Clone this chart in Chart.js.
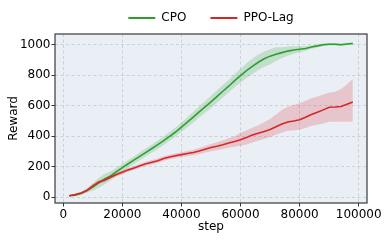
<!DOCTYPE html>
<html>
<head>
<meta charset="utf-8">
<script src="https://cdn.jsdelivr.net/npm/chart.js@4"></script>
<style>
  html, body { margin: 0; padding: 0; background: #fff; }
  #wrap { width: 389px; height: 240px; }
</style>
</head>
<body>
<div id="wrap"><canvas id="chart" width="389" height="240"></canvas></div>
<script>
// training steps (x values)
const steps = [2000, 4000, 6000, 8000, 10000, 12000, 14000, 16000, 18000, 20000,
  22000, 24000, 26000, 28000, 30000, 32000, 34000, 36000, 38000, 40000,
  42000, 44000, 46000, 48000, 50000, 52000, 54000, 56000, 58000, 60000,
  62000, 64000, 66000, 68000, 70000, 72000, 74000, 76000, 78000, 80000,
  82000, 84000, 86000, 88000, 90000, 92000, 94000, 96000, 98000];

// CPO reward: mean and shaded band
const cpoMean = [10, 14, 25, 45, 68, 95, 120, 140, 168, 195,
  220, 245, 270, 295, 320, 345, 372, 400, 428, 460,
  492, 525, 560, 592, 625, 660, 695, 728, 765, 798,
  830, 858, 885, 908, 925, 938, 948, 958, 965, 970,
  975, 985, 992, 1000, 1003, 1003, 1000, 1004, 1008];
const cpoHigh = [13, 19, 33, 60, 93, 127, 155, 170, 194, 220,
  245, 270, 295, 321, 347, 373, 401, 430, 458, 491,
  525, 560, 597, 630, 665, 700, 736, 770, 808, 843,
  878, 910, 935, 956, 970, 983, 983, 988, 990, 990,
  990, 997, 1002, 1009, 1011, 1011, 1008, 1012, 1016];
const cpoLow = [7, 9, 17, 30, 43, 63, 85, 110, 142, 170,
  195, 220, 245, 269, 293, 317, 343, 370, 398, 429,
  459, 490, 523, 554, 585, 620, 654, 686, 722, 753,
  782, 806, 835, 855, 870, 893, 913, 928, 940, 950,
  960, 973, 982, 991, 995, 995, 992, 996, 1000];

// PPO-Lag reward: mean and shaded band
const lagMean = [10, 18, 28, 45, 75, 100, 112, 132, 150, 165,
  180, 193, 207, 220, 230, 240, 255, 264, 272, 280,
  287, 294, 303, 315, 326, 335, 345, 356, 366, 378,
  392, 408, 420, 432, 445, 462, 480, 494, 500, 508,
  525, 543, 558, 573, 590, 592, 595, 610, 625];
const lagHigh = [14, 23, 34, 53, 85, 112, 124, 144, 163, 178,
  193, 206, 220, 233, 244, 254, 270, 279, 287, 296,
  304, 312, 323, 337, 350, 361, 373, 387, 401, 423,
  438, 456, 472, 492, 513, 542, 572, 594, 605, 616,
  633, 649, 661, 673, 685, 692, 710, 740, 775];
const lagLow = [6, 13, 22, 37, 65, 88, 100, 120, 137, 152,
  167, 180, 194, 207, 216, 226, 240, 249, 257, 264,
  270, 276, 283, 293, 302, 309, 317, 325, 331, 338,
  347, 360, 370, 382, 395, 410, 425, 436, 438, 443,
  455, 468, 476, 483, 495, 496, 496, 496, 496];

// axis ticks
const xTicks = [0, 20000, 40000, 60000, 80000, 100000];
const yTicks = [0, 200, 400, 600, 800, 1000];

const GREEN = '#2ca02c';
const RED = '#d62728';

Chart.defaults.font.family = '"DejaVu Sans", sans-serif';
Chart.defaults.font.size = 12;
Chart.defaults.color = '#000';

function toPoints(ys) {
  return steps.map((s, i) => ({ x: s, y: ys[i] }));
}

// background of plot area and the four spines
const frame = {
  id: 'frame',
  beforeDraw(chart) {
    const a = chart.chartArea;
    const ctx = chart.ctx;
    ctx.save();
    ctx.fillStyle = '#eaeef5';
    ctx.fillRect(a.left, a.top, a.right - a.left, a.bottom - a.top);
    ctx.restore();
  },
  afterLayout(chart) {
    // centre legend over the plot area
    const lg = chart.legend;
    lg.left = chart.chartArea.left;
    lg.right = chart.chartArea.right;
  },
  afterDraw(chart) {
    const a = chart.chartArea;
    const ctx = chart.ctx;
    ctx.save();
    ctx.strokeStyle = '#3a3a3a';
    ctx.lineWidth = 1.2;
    ctx.strokeRect(a.left, a.top, a.right - a.left, a.bottom - a.top);
    ctx.restore();
  }
};

const lineOpts = { borderWidth: 1.6, pointRadius: 0, fill: false, tension: 0 };
const bandOpts = { borderWidth: 0, pointRadius: 0, tension: 0 };

new Chart(document.getElementById('chart'), {
  type: 'line',
  data: {
    datasets: [
      { label: 'PPO-Lag', data: toPoints(lagMean), borderColor: RED, backgroundColor: RED, ...lineOpts },
      { label: 'lagHigh', data: toPoints(lagHigh), fill: false, ...bandOpts },
      { label: 'lagLow', data: toPoints(lagLow), fill: '-1', backgroundColor: 'rgba(214,39,40,0.2)', ...bandOpts },
      { label: 'CPO', data: toPoints(cpoMean), borderColor: GREEN, backgroundColor: GREEN, ...lineOpts },
      { label: 'cpoHigh', data: toPoints(cpoHigh), fill: false, ...bandOpts },
      { label: 'cpoLow', data: toPoints(cpoLow), fill: '-1', backgroundColor: 'rgba(44,160,44,0.2)', ...bandOpts }
    ]
  },
  options: {
    responsive: false,
    animation: false,
    layout: { padding: { top: -12, right: 22, bottom: 0, left: 0 } },
    plugins: {
      tooltip: { enabled: false },
      legend: {
        position: 'top',
        labels: {
          boxWidth: 27,
          boxHeight: 2,
          padding: 24,
          color: '#000',
          font: { size: 12 },
          generateLabels(chart) {
            return Chart.defaults.plugins.legend.labels.generateLabels(chart)
              .map(l => ({ ...l, lineWidth: 0 }));
          },
          filter: item => item.text === 'CPO' || item.text === 'PPO-Lag',
          sort: (a, b) => (a.text === 'CPO' ? -1 : 0) - (b.text === 'CPO' ? -1 : 0)
        }
      }
    },
    scales: {
      x: {
        type: 'linear',
        min: -2800,
        max: 102800,
        afterBuildTicks: scale => { scale.ticks = xTicks.map(v => ({ value: v })); },
        afterFit: scale => { scale.height = 37; },
        ticks: { autoSkip: false, maxRotation: 0, padding: 1, color: '#000', callback: v => String(v) },
        grid: { color: '#c4c8cf', lineWidth: 0.8, tickLength: 3.5, tickColor: '#333', tickWidth: 1 },
        border: { display: false, dash: [3, 2.5] },
        title: { display: true, text: 'step', color: '#000', font: { size: 12 }, padding: { top: 0, bottom: 6 } }
      },
      y: {
        min: -37,
        max: 1070,
        afterBuildTicks: scale => { scale.ticks = yTicks.map(v => ({ value: v })); },
        afterFit: scale => { scale.width = 55; },
        ticks: { padding: 1, color: '#000', callback: v => String(v) },
        grid: { color: '#c4c8cf', lineWidth: 0.8, tickLength: 3.5, tickColor: '#333', tickWidth: 1 },
        border: { display: false, dash: [3, 2.5] },
        title: { display: true, text: 'Reward', color: '#000', font: { size: 12 }, padding: { top: 7, bottom: 0 } }
      }
    }
  },
  plugins: [frame]
});
</script>
</body>
</html>
